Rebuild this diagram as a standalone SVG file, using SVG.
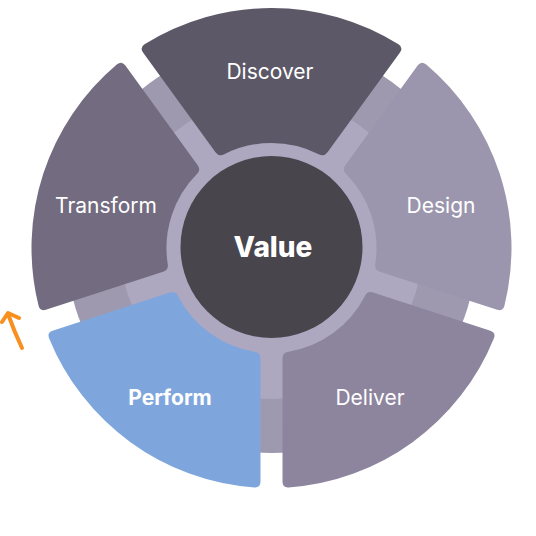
<svg xmlns="http://www.w3.org/2000/svg" width="536" height="536" viewBox="0 0 536 536">
<style>
.lbl{font-family:Inter,"Noto Sans","Liberation Sans",sans-serif;font-size:21px;fill:#ffffff;text-anchor:middle}
.bold{font-weight:700}
.val{font-family:Inter,"Noto Sans","Liberation Sans",sans-serif;font-size:28px;font-weight:800;fill:#ffffff;text-anchor:middle}
.conn{fill:none;stroke:#f7901e;stroke-width:4;stroke-linecap:round;stroke-linejoin:round}
</style>
<defs>
<path id="seg" d="M144.53,44.34 A240,240 0 0 1 398.47,44.34 Q403.51,47.57 399.98,52.42 L327.51,152.20 Q323.98,157.05 318.71,154.21 A105,105 0 0 0 224.29,154.21 Q219.02,157.05 215.49,152.20 L143.02,52.42 Q139.49,47.57 144.53,44.34 Z"/>
</defs>
<rect width="536" height="536" fill="#ffffff"/>
<g id="ring">
<circle cx="271.5" cy="248" r="205" fill="#9f99b0"/>
<circle cx="271.5" cy="248" r="151" fill="#ada8c0"/>
</g>
<g id="discover">
<use href="#seg" fill="#5d5867"/>
<text class="lbl" x="270" y="79">Discover</text>
</g>
<g id="design">
<use href="#seg" fill="#9b96ae" transform="rotate(72 271.5 248)"/>
<text class="lbl" x="441" y="213">Design</text>
</g>
<g id="deliver">
<use href="#seg" fill="#8d849e" transform="rotate(144 271.5 248)"/>
<text class="lbl" x="370" y="405">Deliver</text>
</g>
<g id="perform">
<use href="#seg" fill="#7fa6dc" transform="rotate(216 271.5 248)"/>
<text class="lbl bold" x="170" y="405">Perform</text>
</g>
<g id="transform">
<use href="#seg" fill="#736b7f" transform="rotate(288 271.5 248)"/>
<text class="lbl" x="106" y="213">Transform</text>
</g>
<g id="value">
<circle cx="271.5" cy="247" r="91" fill="#48454d"/>
<text class="val" x="273" y="257">Value</text>
</g>
<g id="connectors">
<path class="conn" d="M22,348 Q14,331 8,314"/>
<path class="conn" d="M2,322 L8,313 L19,318"/>
</g>
</svg>
